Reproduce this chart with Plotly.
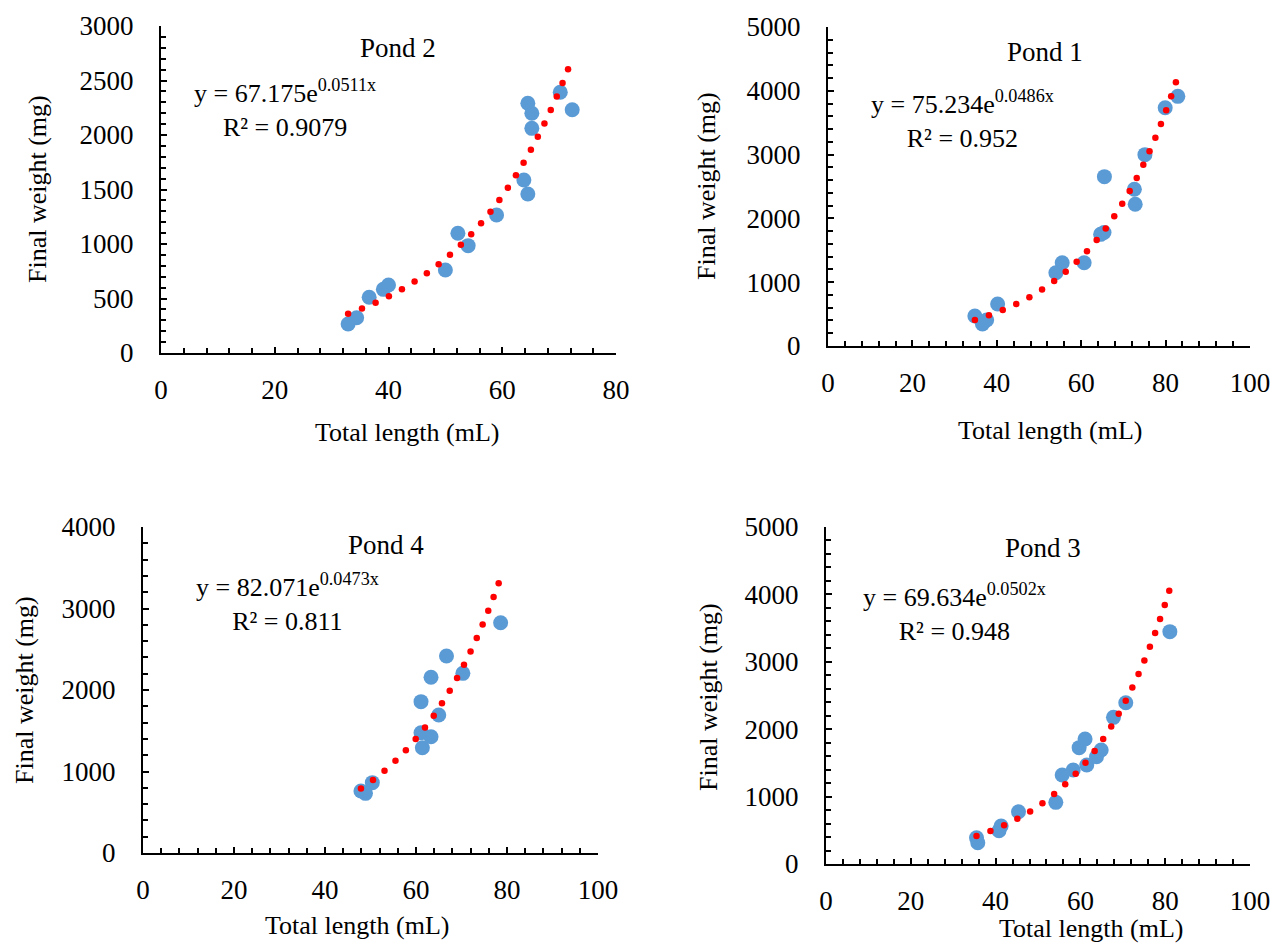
import numpy as np
import plotly.graph_objects as go

W, H = 1273, 944

# ---------------- data ----------------
pond_names = ["Pond 2", "Pond 1", "Pond 4", "Pond 3"]

pond2_x = [32.9, 34.4, 36.6, 39.1, 40.0, 50.0, 52.2, 54.0, 59.0, 63.8, 64.5, 64.5, 65.2, 65.2, 70.2, 72.3]
pond2_y = [266, 324, 511, 584, 624, 761, 1098, 985, 1266, 1587, 1459, 2291, 2199, 2061, 2392, 2232]

pond1_x = [34.8, 36.6, 37.6, 40.2, 54.0, 55.5, 60.7, 64.6, 65.4, 65.5, 72.6, 72.8, 75.1, 79.9, 82.9]
pond1_y = [470, 345, 408, 658, 1149, 1306, 1306, 1750, 1780, 2654, 2456, 2221, 2999, 3735, 3913]

pond4_x = [47.9, 48.9, 50.4, 61.1, 63.3, 61.4, 65.0, 61.1, 63.3, 66.7, 70.3, 78.6]
pond4_y = [761, 732, 863, 1476, 1427, 1292, 1693, 1857, 2156, 2417, 2204, 2826]

pond3_x = [35.5, 35.8, 40.8, 41.3, 45.4, 54.2, 55.7, 58.3, 61.5, 59.7, 61.1, 63.8, 64.9, 67.8, 70.7, 81.1]
pond3_y = [390, 316, 494, 564, 776, 915, 1320, 1395, 1469, 1726, 1855, 1592, 1691, 2176, 2393, 3447]

fit_a = [67.175, 75.234, 82.071, 69.634]
fit_b = [0.0511, 0.0486, 0.0473, 0.0502]
fit_a_txt = ["67.175", "75.234", "82.071", "69.634"]
fit_b_txt = ["0.0511", "0.0486", "0.0473", "0.0502"]
r2_txt = ["0.9079", "0.952", "0.811", "0.948"]

x_max = [80, 100, 100, 100]
y_max = [3000, 5000, 4000, 5000]
y_dtick = [500, 1000, 1000, 1000]
y_minor = [100, 200, 200, 200]
x_dtick = 20
x_minor = 4

xs = [pond2_x, pond1_x, pond4_x, pond3_x]
ys = [pond2_y, pond1_y, pond4_y, pond3_y]

# ---------------- layout geometry (pixels) ----------------
# plot-area boxes: (left, right, top, bottom)
boxes = [(161, 616, 26, 353), (828, 1250, 27, 346), (143, 598, 527, 853), (826, 1250, 527, 864)]
title_pos = [(398, 48), (1045, 52), (386, 545), (1043, 548)]
eq_pos = [(285, 109), (962, 119), (287, 602), (955, 612)]
xtitle_pos = [(407, 432), (1050, 430), (357, 925), (1091, 928)]
ytitle_pos = [(38, 189), (706, 186), (24, 690), (708, 697)]

FONT = "Liberation Serif, Times New Roman, serif"
BLUE = "#5B9BD5"
RED = "#FF0000"

def px2paper(x, y):
    return x / W, 1 - y / H

fig = go.Figure()
annotations = []
layout = {}

for i in range(4):
    l, r, t, b = boxes[i]
    ax = "" if i == 0 else str(i + 1)
    xa, ya = "x" + ax, "y" + ax

    # blue data points
    fig.add_trace(go.Scatter(x=xs[i], y=ys[i], mode="markers", xaxis=xa, yaxis=ya,
                             marker=dict(color=BLUE, size=15, line=dict(width=0)),
                             showlegend=False, hoverinfo="skip"))

    # exponential trendline, rendered as round dots spaced evenly along the curve
    xd = np.linspace(min(xs[i]), max(xs[i]), 2000)
    yd = fit_a[i] * np.exp(fit_b[i] * xd)
    sx = (r - l) / x_max[i]
    sy = (b - t) / y_max[i]
    pxs, pys = xd * sx, yd * sy
    seg = np.hypot(np.diff(pxs), np.diff(pys))
    s = np.concatenate([[0], np.cumsum(seg)])
    targets = np.arange(0, s[-1] + 1e-9, 14.8)
    xdots = np.interp(targets, s, xd)
    ydots = fit_a[i] * np.exp(fit_b[i] * xdots)
    fig.add_trace(go.Scatter(x=xdots, y=ydots, mode="markers", xaxis=xa, yaxis=ya,
                             marker=dict(color=RED, size=6.5, line=dict(width=0)),
                             showlegend=False, hoverinfo="skip"))

    x0, y1 = px2paper(l, t)
    x1, y0 = px2paper(r, b)
    layout["xaxis" + ax] = dict(
        domain=[x0, x1], anchor=ya, range=[0, x_max[i]], dtick=x_dtick, tick0=0,
        showline=True, linecolor="black", linewidth=2, showgrid=False, zeroline=False,
        ticks="inside", ticklen=6, tickwidth=1.5, tickcolor="black",
        minor=dict(dtick=x_minor, tick0=0, ticks="inside", ticklen=5, tickwidth=1.5,
                   tickcolor="black", showgrid=False),
        tickfont=dict(family=FONT, size=27, color="black"), ticklabelstandoff=12,
        automargin=False, fixedrange=True,
    )
    layout["yaxis" + ax] = dict(
        domain=[y0, y1], anchor=xa, range=[0, y_max[i]], dtick=y_dtick[i], tick0=0,
        showline=True, linecolor="black", linewidth=2, showgrid=False, zeroline=False,
        ticks="inside", ticklen=6, tickwidth=1.5, tickcolor="black",
        minor=dict(dtick=y_minor[i], tick0=0, ticks="inside", ticklen=5, tickwidth=1.5,
                   tickcolor="black", showgrid=False),
        tickfont=dict(family=FONT, size=27, color="black"), ticklabelstandoff=20,
        automargin=False, fixedrange=True,
    )

    tx, ty = px2paper(*title_pos[i])
    annotations.append(dict(x=tx, y=ty, xref="paper", yref="paper", text=pond_names[i],
                            showarrow=False, xanchor="center", yanchor="middle",
                            font=dict(family=FONT, size=27, color="black")))
    ex, ey = px2paper(*eq_pos[i])
    annotations.append(dict(x=ex, y=ey, xref="paper", yref="paper",
                            text=f"y = {fit_a_txt[i]}e<sup>{fit_b_txt[i]}x</sup><br>R² = {r2_txt[i]}",
                            showarrow=False, xanchor="center", yanchor="middle", align="center",
                            font=dict(family=FONT, size=26, color="black")))
    ax_x, ax_y = px2paper(*xtitle_pos[i])
    annotations.append(dict(x=ax_x, y=ax_y, xref="paper", yref="paper", text="Total length (mL)",
                            showarrow=False, xanchor="center", yanchor="middle",
                            font=dict(family=FONT, size=26, color="black")))
    ay_x, ay_y = px2paper(*ytitle_pos[i])
    annotations.append(dict(x=ay_x, y=ay_y, xref="paper", yref="paper", text="Final weight (mg)",
                            showarrow=False, xanchor="center", yanchor="middle", textangle=-90,
                            font=dict(family=FONT, size=26, color="black")))

fig.update_layout(**layout)
fig.update_layout(template="none", width=W, height=H, margin=dict(l=0, r=0, t=0, b=0, pad=0),
                  paper_bgcolor="white", plot_bgcolor="white",
                  annotations=annotations, showlegend=False)

fig.write_html("out.html", config={"displayModeBar": False},
               post_script="document.body.style.margin='0px';")
